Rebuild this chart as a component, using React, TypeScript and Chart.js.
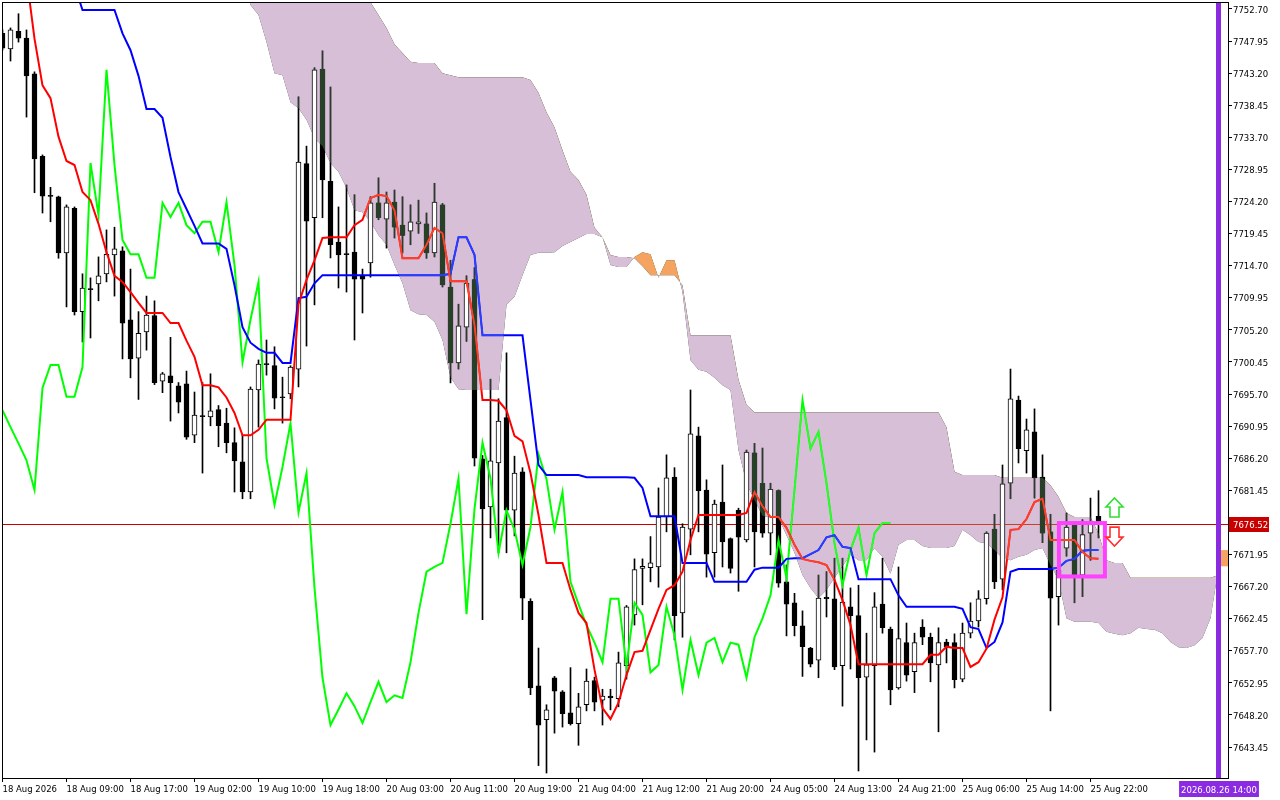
import React, { useEffect, useRef } from 'react';
import { Chart, registerables } from 'chart.js';
Chart.register(...registerables);

// ---------- data ----------
const xLabels = ['18 Aug 2026','18 Aug 09:00','18 Aug 17:00','19 Aug 02:00','19 Aug 10:00','19 Aug 18:00','20 Aug 03:00','20 Aug 11:00','20 Aug 19:00','21 Aug 04:00','21 Aug 12:00','21 Aug 20:00','24 Aug 05:00','24 Aug 13:00','24 Aug 21:00','25 Aug 06:00','25 Aug 14:00','25 Aug 22:00'];
const xTickBars = [0,8,16,24,32,40,48,56,64,72,80,88,96,104,112,120,128,136];
const priceTicks = [7752.70,7747.95,7743.20,7738.45,7733.70,7728.95,7724.20,7719.45,7714.70,7709.95,7705.20,7700.45,7695.70,7690.95,7686.20,7681.45,7671.95,7667.20,7662.45,7657.70,7652.95,7648.20,7643.45];

const opens = [7749.1,7746.8,7749.4,7748.4,7743.1,7730.9,7725.1,7724.9,7716.6,7723.2,
 7707.9,7711.3,7712.0,7713.5,7716.3,7716.9,7706.7,7701.0,7704.9,7707.3,
 7697.6,7698.4,7696.9,7697.2,7689.6,7692.5,7692.3,7693.4,7691.4,7688.5,
 7685.65,7681.2,7696.3,7700.2,7699.9,7695.3,7695.7,7699.4,7729.8,7721.8,
 7743.8,7727.2,7718.2,7716.5,7716.7,7713.2,7715.1,7724.0,7721.6,7724.1,
 7720.7,7719.8,7720.9,7720.9,7716.6,7723.7,7711.55,7700.3,7705.6,7712.65,
 7686.1,7679.0,7685.5,7692.2,7678.5,7684.2,7665.0,7652.5,7647.5,7653.7,
 7651.6,7648.5,7646.9,7649.7,7653.3,7650.4,7651.0,7650.6,7655.5,7663.0,
 7669.9,7670.0,7670.1,7677.5,7683.4,7663.3,7675.7,7689.5,7681.5,7672.2,
 7679.7,7674.3,7678.5,7674.1,7687.0,7682.5,7675.1,7681.4,7667.9,7664.8,
 7661.4,7658.1,7656.3,7665.6,7665.4,7655.5,7664.2,7662.9,7653.8,7655.5,
 7664.6,7660.9,7652.2,7658.9,7654.6,7661.2,7659.7,7655.6,7659.0,7658.9,
 7653.5,7660.3,7662.1,7665.4,7675.7,7668.3,7682.5,7694.8,7687.3,7690.1,
 7683.4,7675.3,7665.7,7672.9,7676.3,7668.9,7675.1,7677.6];
const highs = [7749.6,7749.9,7752.0,7749.6,7743.4,7731.1,7726.3,7725.0,7723.7,7723.4,
 7713.5,7712.9,7716.0,7720.0,7720.4,7717.5,7714.2,7707.9,7710.2,7709.5,
 7698.9,7704.1,7697.4,7699.1,7696.0,7697.4,7698.7,7694.0,7693.6,7690.7,
 7689.65,7696.75,7700.75,7703.7,7702.7,7698.2,7699.9,7739.7,7732.4,7744.0,
 7746.5,7741.15,7723.4,7726.65,7725.2,7714.2,7724.9,7727.7,7725.6,7725.9,
 7724.9,7723.7,7724.4,7722.5,7726.9,7723.9,7715.5,7709.0,7713.2,7714.4,
 7686.6,7697.9,7695.0,7701.8,7686.5,7684.8,7665.4,7658.1,7649.7,7653.9,
 7651.8,7655.2,7651.4,7655.0,7653.8,7652.0,7652.0,7657.5,7664.4,7671.3,
 7671.3,7674.6,7681.8,7686.7,7684.8,7676.5,7696.3,7690.8,7683.0,7680.0,
 7685.2,7674.4,7678.8,7687.4,7688.4,7687.7,7682.5,7681.5,7670.4,7666.2,
 7663.6,7658.2,7668.9,7669.4,7671.4,7671.4,7667.0,7667.4,7660.3,7666.3,
 7671.4,7661.2,7670.1,7661.8,7660.3,7662.3,7660.3,7661.1,7659.4,7660.2,
 7661.8,7664.8,7666.6,7675.3,7677.9,7685.2,7699.4,7695.4,7692.0,7693.5,
 7686.7,7677.9,7674.1,7678.1,7676.5,7677.1,7680.3,7681.4];
const lows = [7746.6,7745.0,7747.8,7736.7,7725.5,7722.5,7721.2,7715.8,7708.6,7707.4,
 7703.4,7704.0,7709.5,7712.3,7710.2,7700.9,7698.1,7694.9,7702.2,7697.1,
 7695.9,7691.7,7692.9,7689.0,7688.5,7684.0,7691.0,7687.9,7687.0,7681.2,
 7680.2,7680.2,7690.8,7698.5,7693.5,7691.4,7695.0,7696.75,7702.8,7708.9,
 7721.8,7715.85,7711.4,7710.8,7703.7,7707.7,7713.0,7721.5,7717.3,7718.8,
 7716.6,7717.8,7719.5,7715.8,7716.0,7711.55,7697.35,7699.4,7703.5,7685.05,
 7662.3,7674.4,7672.2,7672.2,7674.7,7662.3,7651.2,7640.7,7639.6,7645.5,
 7646.4,7646.7,7643.7,7648.8,7648.8,7646.7,7648.95,7649.4,7653.5,7661.5,
 7664.5,7667.9,7667.1,7675.3,7659.3,7659.7,7671.9,7675.3,7668.6,7668.6,
 7670.1,7669.2,7666.5,7673.8,7670.1,7674.5,7671.9,7667.1,7659.9,7659.9,
 7653.9,7655.3,7653.7,7662.7,7654.9,7649.5,7655.0,7639.9,7644.5,7642.7,
 7660.3,7649.7,7652.0,7653.2,7651.5,7658.6,7653.1,7645.7,7655.9,7652.2,
 7653.1,7659.6,7661.2,7664.6,7666.9,7666.7,7680.2,7685.5,7684.0,7680.3,
 7673.7,7648.8,7661.5,7671.7,7664.8,7665.7,7671.1,7674.4];
const closes = [7746.9,7749.6,7748.4,7742.8,7730.5,7725.0,7724.95,7716.6,7723.4,7707.9,
 7711.4,7711.15,7713.2,7716.4,7717.2,7706.2,7700.9,7704.7,7707.4,7697.4,
 7698.7,7697.4,7694.5,7689.3,7692.6,7692.35,7693.2,7691.0,7688.5,7685.8,
 7681.2,7696.45,7700.15,7700.05,7695.1,7695.15,7699.7,7730.05,7721.3,7743.7,
 7727.4,7717.8,7716.3,7716.35,7712.7,7712.7,7724.0,7721.8,7724.0,7720.4,
 7719.2,7721.2,7721.2,7716.6,7724.1,7711.85,7700.3,7705.8,7712.1,7686.2,
 7678.7,7685.8,7691.7,7678.5,7684.0,7665.5,7652.2,7646.7,7648.95,7651.7,
 7648.4,7646.9,7649.4,7653.2,7650.1,7651.0,7650.7,7655.9,7664.2,7669.7,
 7670.2,7670.7,7677.5,7683.3,7662.9,7676.0,7689.8,7681.4,7672.0,7679.4,
 7673.8,7669.9,7674.5,7687.1,7675.3,7675.1,7681.6,7667.7,7664.6,7661.4,
 7658.3,7655.7,7665.5,7665.4,7655.3,7664.9,7662.9,7653.7,7655.6,7664.2,
 7661.1,7651.9,7659.5,7654.1,7658.9,7659.7,7655.9,7658.9,7658.3,7653.4,
 7660.3,7662.1,7665.4,7675.1,7667.9,7682.4,7695.0,7687.6,7690.4,7683.3,
 7675.1,7665.5,7669.6,7676.0,7668.9,7674.9,7676.5,7676.52];

const tenkan = [7760,7760,7759,7757.5,7748.3,7741.4,7739.5,7733.8,7730.2,7729.6,
 7725.6,7724.4,7720.9,7716.7,7713.2,7712.3,7710.8,7709.2,7707.7,7707.7,
 7707.7,7706.2,7706.2,7703.6,7701.2,7697.0,7697.0,7696.7,7695.2,7692.9,
 7689.6,7689.6,7690.4,7691.9,7691.9,7691.9,7691.9,7709.0,7712.6,7715.5,
 7718.8,7718.9,7718.9,7718.9,7720.7,7721.5,7724.7,7725.2,7725.0,7722.9,
 7715.8,7715.8,7715.8,7717.8,7720.3,7719.5,7712.4,7712.4,7712.4,7705.9,
 7694.8,7694.8,7694.7,7693.3,7689.5,7688.7,7684.0,7677.8,7670.7,7670.7,
 7670.7,7666.7,7663.3,7661.8,7654.9,7649.2,7647.6,7650.0,7654.1,7657.5,
 7657.7,7660.8,7663.9,7666.7,7667.4,7669.4,7674.1,7677.8,7677.8,7677.8,
 7677.8,7677.8,7677.8,7678.1,7681.2,7679.1,7677.5,7677.5,7675.9,7673.4,
 7671.3,7671.0,7670.8,7670.4,7668.2,7665.2,7661.5,7655.7,7655.7,7655.7,
 7655.7,7655.7,7655.7,7655.7,7655.7,7655.7,7657.1,7657.1,7658.3,7658.1,
 7658.1,7655.3,7656.0,7658.0,7662.3,7665.6,7675.6,7675.7,7677.2,7679.7,
 7680.2,7674.1,7674.1,7674.1,7674.1,7672.3,7671.4,7671.3];
const kijun = [7758,7758,7758,7758,7758,7758,7758,7758,7758,7756.2,
 7752.55,7752.55,7752.55,7752.55,7752.55,7749.1,7746.6,7742.8,7737.9,7737.9,
 7736.6,7730.8,7725.6,7723.1,7720.6,7718.0,7718.0,7718.0,7717.2,7711.8,
 7705.6,7703.3,7702.4,7701.8,7701.8,7700.3,7700.3,7709.9,7710.1,7712.1,
 7713.3,7713.3,7713.3,7713.3,7713.3,7713.3,7713.3,7713.3,7713.3,7713.3,
 7713.3,7713.3,7713.3,7713.3,7713.3,7713.3,7713.5,7718.9,7718.9,7716.3,
 7704.4,7704.4,7704.4,7704.4,7704.4,7704.4,7694.8,7685.2,7683.7,7683.7,
 7683.7,7683.7,7683.7,7683.4,7683.4,7683.4,7683.4,7683.4,7683.4,7683.3,
 7681.8,7677.6,7677.6,7677.6,7677.6,7670.7,7670.7,7670.7,7670.7,7667.9,
 7667.9,7667.9,7667.9,7667.9,7669.7,7670.0,7670.0,7670.0,7671.3,7671.4,
 7671.4,7672.0,7672.6,7674.5,7674.8,7673.1,7672.9,7668.3,7668.3,7668.3,
 7668.3,7668.3,7665.9,7664.2,7664.2,7664.2,7664.2,7664.2,7664.2,7664.2,
 7663.9,7661.2,7660.9,7658.1,7659.0,7661.9,7669.4,7669.8,7669.8,7669.8,
 7669.8,7669.8,7670.0,7671.0,7671.3,7672.5,7672.6,7672.6];
const chikou = [7693.3,7690.8,7688.4,7685.9,7681.5,7696.6,7700.0,7700.0,7695.3,7695.3,
 7699.7,7729.9,7722.2,7743.7,7729.6,7718.5,7716.4,7716.4,7712.9,7712.9,
 7724.0,7721.9,7724.0,7720.7,7719.5,7721.2,7721.2,7716.7,7724.1,7714.8,
 7700.4,7706.7,7712.3,7686.2,7679.3,7684.9,7691.4,7678.2,7684.0,7667.0,
 7653.7,7646.7,7649.0,7651.4,7649.5,7647.0,7650.1,7653.1,7650.1,7651.1,
 7650.7,7656.0,7663.3,7669.4,7670.1,7670.7,7676.5,7683.2,7663.1,7678.7,
 7688.5,7683.2,7672.2,7678.5,7675.6,7670.4,7676.0,7686.8,7683.1,7675.6,
 7681.2,7667.9,7664.6,7661.5,7658.9,7656.0,7665.4,7665.4,7655.4,7664.8,
 7663.0,7654.5,7655.6,7664.2,7660.0,7651.9,7659.3,7654.1,7658.9,7659.6,
 7656.0,7658.9,7658.6,7653.7,7659.7,7662.5,7665.9,7674.1,7668.5,7681.5,
 7694.8,7687.6,7690.1,7682.5,7673.6,7667.4,7672.6,7675.9,7668.9,7675.1,
 7676.6,7676.6];

const cloudStart = 30;
const spanA = [7758.5,7753.3,7751.8,7747.8,7743.2,7742.9,7738.9,7738.0,7736.3,7733.6,
 7732.4,7729.9,7728.6,7726.2,7722.9,7722.6,7721.2,7719.2,7717.8,7714.8,
 7712.1,7708.1,7707.5,7707.4,7706.4,7703.7,7698.2,7696.4,7696.3,7696.3,
 7696.3,7696.3,7696.3,7708.9,7710.1,7713.3,7716.3,7716.6,7716.6,7716.7,
 7717.6,7718.2,7718.8,7719.4,7719.4,7718.9,7714.8,7714.5,7714.5,7716.0,
 7716.7,7716.4,7712.9,7715.5,7715.5,7710.8,7700.7,7699.3,7699.0,7698.1,
 7697.0,7696.3,7687.4,7682.5,7680.0,7677.7,7677.4,7677.4,7674.8,7672.2,
 7668.9,7667.0,7665.5,7666.7,7668.5,7670.2,7671.9,7671.1,7671.1,7672.9,
 7671.6,7669.1,7673.4,7674.1,7674.1,7673.2,7672.9,7672.9,7672.9,7673.2,
 7675.6,7674.8,7673.8,7673.6,7672.6,7671.4,7671.1,7671.6,7671.9,7672.6,
 7672.9,7670.4,7668.2,7662.5,7662.0,7662.0,7662.0,7661.8,7660.5,7660.2,
 7660.0,7660.3,7661.1,7660.9,7660.8,7660.3,7659.0,7658.2,7658.1,7658.5,
 7659.6,7662.5,7669.9];
const spanB = [7760,7760,7760,7760,7760,7760,7760,7760,7760,7760,
 7760,7760,7760,7760,7760,7755.5,7753.7,7751.8,7749.9,7747.5,
 7746.2,7744.9,7744.7,7744.7,7744.7,7743.2,7742.9,7742.6,7742.6,7742.6,
 7742.6,7742.6,7742.6,7742.6,7742.6,7742.6,7742.2,7740.3,7737.4,7735.2,
 7731.8,7728.6,7727.4,7725.2,7720.3,7718.9,7716.3,7716.0,7716.0,7715.8,
 7714.6,7713.3,7713.3,7713.3,7713.3,7711.8,7704.4,7704.4,7704.4,7704.4,
 7704.4,7704.4,7697.8,7694.1,7693.0,7693.0,7693.0,7693.0,7693.0,7693.0,
 7693.0,7693.0,7693.0,7693.0,7693.0,7693.0,7693.0,7693.0,7693.0,7693.0,
 7693.0,7693.0,7693.0,7693.0,7693.0,7693.0,7693.0,7693.0,7690.8,7684.2,
 7683.7,7683.7,7683.7,7683.7,7683.7,7683.3,7683.3,7683.3,7683.3,7683.3,
 7683.3,7682.2,7680.5,7678.1,7677.5,7677.5,7677.5,7675.1,7671.1,7670.7,
 7670.7,7668.5,7668.5,7668.5,7668.5,7668.5,7668.5,7668.5,7668.5,7668.5,
 7668.5,7668.5,7668.9];

const currentPrice = 7676.52;
const vLineBar = 152;
const vLineLabel = '2026.08.26 14:00';
const boxBars = [132.05, 137.8];
const boxPrices = [7676.6, 7668.7];
const arrowBar = 139;
const upArrowBase = 7677.5;
const downArrowTop = 7676.0;
const senkouMark = [7672.6, 7670.2];

// ---------- chart ----------
const FONT = { family: 'DejaVu Sans', size: 8.5 };
const bars = closes.map((_, i) => i);

const overlay = {
  id: 'overlay',
  beforeDatasetsDraw(chart: any) {
    const { ctx, chartArea: a, scales } = chart;
    const py = Math.round(scales.y.getPixelForValue(currentPrice)) + 0.5;
    ctx.save();
    ctx.strokeStyle = 'rgb(200,0,0)';
    ctx.lineWidth = 1;
    ctx.beginPath(); ctx.moveTo(a.left, py); ctx.lineTo(a.right, py); ctx.stroke();
    ctx.restore();
  },
  afterDatasetsDraw(chart: any) {
    const { ctx, chartArea: a, scales: { x, y } } = chart;
    ctx.save();
    ctx.beginPath(); ctx.rect(a.left, a.top, a.right - a.left, a.bottom - a.top); ctx.clip();
    ctx.beginPath();
    spanA.forEach((v, k) => {
      const px = x.getPixelForValue(cloudStart + k), p = y.getPixelForValue(v);
      if (k === 0) ctx.moveTo(px, p); else ctx.lineTo(px, p);
    });
    for (let k = spanB.length - 1; k >= 0; k--) ctx.lineTo(x.getPixelForValue(cloudStart + k), y.getPixelForValue(spanB[k]));
    ctx.closePath();
    ctx.globalCompositeOperation = 'lighten';
    ctx.fillStyle = 'rgb(39,64,39)';
    ctx.fill();
    ctx.restore();
  },
  afterDraw(chart: any) {
    const { ctx, chartArea: a, scales: { x, y } } = chart;
    ctx.save();
    // magenta box
    const bx1 = x.getPixelForValue(boxBars[0]), bx2 = x.getPixelForValue(boxBars[1]);
    const by1 = y.getPixelForValue(boxPrices[0]), by2 = y.getPixelForValue(boxPrices[1]);
    ctx.strokeStyle = '#ff40ff'; ctx.lineWidth = 4;
    ctx.strokeRect(bx1, by1, bx2 - bx1, by2 - by1);
    // arrows
    const ax = x.getPixelForValue(arrowBar);
    const ub = y.getPixelForValue(upArrowBase);
    ctx.lineWidth = 1.6; ctx.lineJoin = 'miter';
    ctx.strokeStyle = '#33dd33';
    ctx.beginPath();
    ctx.moveTo(ax - 4.5, ub); ctx.lineTo(ax - 4.5, ub - 10); ctx.lineTo(ax - 8.5, ub - 10);
    ctx.lineTo(ax, ub - 19); ctx.lineTo(ax + 8.5, ub - 10); ctx.lineTo(ax + 4.5, ub - 10);
    ctx.lineTo(ax + 4.5, ub); ctx.closePath(); ctx.stroke();
    const dt = y.getPixelForValue(downArrowTop);
    ctx.strokeStyle = '#ff3030';
    ctx.beginPath();
    ctx.moveTo(ax - 4.5, dt); ctx.lineTo(ax - 4.5, dt + 10); ctx.lineTo(ax - 8.5, dt + 10);
    ctx.lineTo(ax, dt + 19); ctx.lineTo(ax + 8.5, dt + 10); ctx.lineTo(ax + 4.5, dt + 10);
    ctx.lineTo(ax + 4.5, dt); ctx.closePath(); ctx.stroke();
    // vertical line
    const vx = x.getPixelForValue(vLineBar);
    ctx.fillStyle = '#8a2be2';
    ctx.fillRect(Math.round(vx) - 3, a.top, 5, a.bottom - a.top);
    // senkou marker at right edge
    const sy1 = y.getPixelForValue(senkouMark[0]), sy2 = y.getPixelForValue(senkouMark[1]);
    ctx.fillStyle = 'rgb(244,164,96)';
    ctx.fillRect(Math.round(vx) + 2, sy1, a.right - Math.round(vx) - 2, sy2 - sy1);
    // frame
    ctx.strokeStyle = '#000'; ctx.lineWidth = 1;
    ctx.strokeRect(a.left + 0.5, a.top + 0.5, a.right - a.left, a.bottom - a.top);
    // price label
    const py = Math.round(y.getPixelForValue(currentPrice));
    ctx.font = `${FONT.size}px "${FONT.family}"`;
    ctx.fillStyle = 'rgb(200,0,0)';
    ctx.fillRect(a.right + 1, py - 7, 40, 15);
    ctx.fillStyle = '#fff'; ctx.textBaseline = 'middle'; ctx.textAlign = 'left';
    ctx.fillText(currentPrice.toFixed(2), a.right + 5, py + 1.5);
    // date label
    const tw = ctx.measureText(vLineLabel).width;
    ctx.fillStyle = '#8a2be2';
    ctx.fillRect(Math.round(vx) - tw / 2 - 2, a.bottom + 3, tw + 4, 16);
    ctx.fillStyle = '#fff'; ctx.textAlign = 'center';
    ctx.fillText(vLineLabel, Math.round(vx), a.bottom + 12.5);
    ctx.restore();
  },
};

export default function App() {
  const ref = useRef<HTMLCanvasElement>(null);
  useEffect(() => {
    document.body.style.margin = '0';
    const chart = new Chart(ref.current as HTMLCanvasElement, {
      type: 'bar',
      data: {
        datasets: [
          { type: 'line', label: 'tenkan', data: tenkan.map((v, i) => ({ x: i, y: v })), borderColor: '#ff0000', borderWidth: 2, pointRadius: 0, tension: 0, order: 1 } as any,
          { type: 'line', label: 'kijun', data: kijun.map((v, i) => ({ x: i, y: v })), borderColor: '#0000ff', borderWidth: 2, pointRadius: 0, tension: 0, order: 2 } as any,
          { type: 'line', label: 'chikou', data: chikou.map((v, i) => ({ x: i, y: v })), borderColor: '#00ff00', borderWidth: 2, pointRadius: 0, tension: 0, order: 3 } as any,
          { type: 'bar', label: 'bodies', data: bars.map(i => ({ x: i, y: [opens[i], closes[i]] })), backgroundColor: bars.map(i => closes[i] >= opens[i] ? '#ffffff' : '#000000'), borderColor: '#000', borderWidth: 1, borderSkipped: false, barThickness: 5, grouped: false, order: 5 } as any,
          { type: 'bar', label: 'wicks', data: bars.map(i => ({ x: i, y: [lows[i], highs[i]] })), backgroundColor: '#000', borderWidth: 0, barThickness: 1, grouped: false, order: 6 } as any,
          { type: 'line', label: 'spanA', data: spanA.map((v, k) => ({ x: cloudStart + k, y: v })), borderColor: 'rgba(0,0,0,0)', borderWidth: 0, pointRadius: 0, tension: 0, order: 10, fill: { target: 6, above: 'rgb(244,164,96)', below: 'rgb(216,191,216)' } } as any,
          { type: 'line', label: 'spanB', data: spanB.map((v, k) => ({ x: cloudStart + k, y: v })), borderColor: 'rgba(0,0,0,0)', borderWidth: 0, pointRadius: 0, tension: 0, order: 11, fill: false } as any,
        ],
      },
      options: {
        animation: false,
        responsive: false,
        maintainAspectRatio: false,
        events: [],
        layout: { padding: { left: 2, top: 2, right: 0, bottom: 0 } },
        plugins: { legend: { display: false }, tooltip: { enabled: false }, filler: { drawTime: 'beforeDatasetsDraw' } } as any,
        scales: {
          x: {
            type: 'linear', min: -0.0625, max: 153.1875, offset: false,
            grid: { drawOnChartArea: false, drawTicks: true, tickLength: 4, color: '#000', offset: false } as any,
            border: { display: false },
            ticks: { autoSkip: false, maxRotation: 0, minRotation: 0, align: 'start', padding: 3, color: '#000', font: FONT, callback: (_v: any, i: number) => xLabels[i] } as any,
            afterBuildTicks: (s: any) => { s.ticks = xTickBars.map(v => ({ value: v })); },
            afterFit: (s: any) => { s.height = 22; s.paddingLeft = 0; s.paddingRight = 0; },
          } as any,
          y: {
            type: 'linear', position: 'right', min: 7638.861, max: 7753.736,
            grid: { drawOnChartArea: false, drawTicks: true, tickLength: 4, color: '#000' },
            border: { display: false },
            ticks: { autoSkip: false, padding: 1, labelOffset: 1.5, color: '#000', font: FONT, callback: (v: any) => Number(v).toFixed(2) } as any,
            afterBuildTicks: (s: any) => { s.ticks = priceTicks.map(v => ({ value: v })); },
            afterFit: (s: any) => { s.width = 52; s.paddingTop = 0; s.paddingBottom = 0; },
          } as any,
        },
      },
      plugins: [overlay],
    } as any);
    return () => chart.destroy();
  }, []);
  return (
    <div style={{ position: 'absolute', left: 0, top: 0, width: 1280, height: 800, background: '#fff' }}>
      <canvas ref={ref} width={1280} height={800} style={{ display: 'block', width: 1280, height: 800 }} />
    </div>
  );
}
